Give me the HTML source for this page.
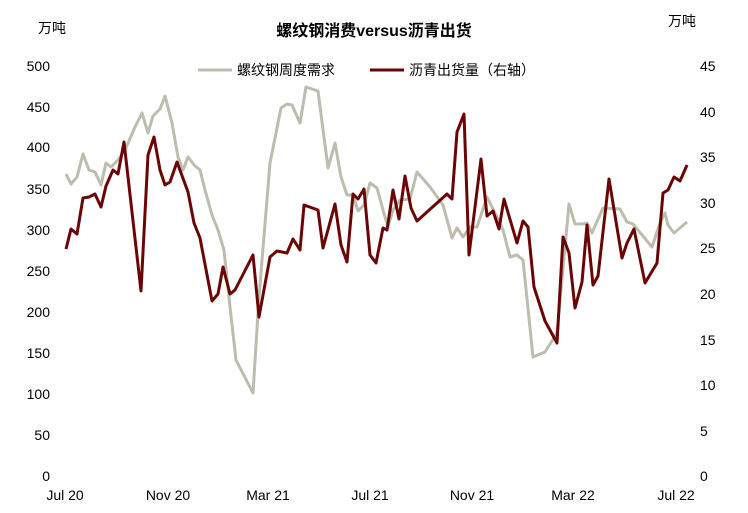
<!DOCTYPE html>
<html><head><meta charset="utf-8"><style>
body{margin:0;background:#fff;}
svg{display:block;font-family:"Liberation Sans","Noto Sans CJK SC",sans-serif;}
</style></head><body>
<svg width="748" height="513" viewBox="0 0 748 513">
<text x="374" y="36" text-anchor="middle" font-size="16" font-weight="bold" fill="#000">螺纹钢消费versus沥青出货</text>
<text x="38" y="33" font-size="14">万吨</text>
<text x="668" y="26" font-size="14">万吨</text>
<line x1="198" y1="70" x2="232" y2="70" stroke="#bdbcaf" stroke-width="3"/>
<text x="237" y="75" font-size="14">螺纹钢周度需求</text>
<line x1="370" y1="70" x2="404" y2="70" stroke="#6b0505" stroke-width="3"/>
<text x="409" y="75" font-size="14">沥青出货量（右轴）</text>
<g font-size="14" text-anchor="end">
<text x="50" y="71">500</text><text x="50" y="152">400</text>
<text x="50" y="112">450</text><text x="50" y="194">350</text>
<text x="50" y="235">300</text><text x="50" y="276">250</text>
<text x="50" y="317">200</text><text x="50" y="358">150</text>
<text x="50" y="399">100</text><text x="50" y="440">50</text>
<text x="50" y="481">0</text>
</g>
<g font-size="14" text-anchor="start">
<text x="700" y="71">45</text><text x="700" y="117">40</text>
<text x="700" y="162">35</text><text x="700" y="208">30</text>
<text x="700" y="253">25</text><text x="700" y="299">20</text>
<text x="700" y="345">15</text><text x="700" y="390">10</text>
<text x="700" y="436">5</text><text x="700" y="481">0</text>
</g>
<g font-size="14" text-anchor="middle">
<text x="65" y="500">Jul 20</text><text x="168" y="500">Nov 20</text>
<text x="268" y="500">Mar 21</text><text x="370" y="500">Jul 21</text>
<text x="472" y="500">Nov 21</text><text x="573" y="500">Mar 22</text>
<text x="676" y="500">Jul 22</text>
</g>
<polyline fill="none" stroke="#bdbcaf" stroke-width="3" stroke-linejoin="round" points="66,174 71,184 77,177 83,154 89,170 95,172 101,185 106,163 111,167 118,160 125,150 135,127 142,113 148,133 153,116 160,109 165,96 172,123 178,157 183,170 188,157 195,166 200,170 205,190 212,215 218,230 224,250 230,307 236,360 253,393 259,297 270,163 281,108 287,104 292,105 300,123 306,87 318,91 328,168 335,143 341,177 347,195 353,195 358,211 364,205 370,183 377,188 383,210 388,227 393,210 400,200 410,199 417,172 430,187 443,205 452,238 457,228 463,237 470,227 477,227 487,197 495,213 503,230 510,257 517,255 523,260 533,357 545,352 557,333 569,204 575,224 583,224 587,223 592,233 603,208 620,209 627,222 633,224 652,247 660,223 665,213 668,225 674,233 687,222"/>
<polyline fill="none" stroke="#6b0505" stroke-width="3" stroke-linejoin="round" points="66,249 71,229 77,234 83,198 89,197 95,194 101,207 106,186 113,170 118,174 124,142 141,291 148,155 154,137 160,170 165,185 170,182 177,162 188,192 194,223 200,238 212,301 218,294 223,267 230,294 235,290 253,255 259,317 270,257 277,251 287,253 293,239 300,250 304,205 318,210 323,248 335,204 341,245 347,262 353,194 358,199 364,189 370,255 376,263 383,228 387,230 393,190 399,219 405,176 411,208 417,221 447,194 452,199 457,132 464,114 469,255 481,159 487,216 493,211 499,229 504,199 517,243 523,221 528,227 534,287 545,321 557,343 563,237 569,253 575,308 582,282 587,225 593,285 598,276 609,179 622,258 627,243 634,229 645,283 657,263 663,193 668,190 674,177 680,181 687,165"/>
</svg>
</body></html>
